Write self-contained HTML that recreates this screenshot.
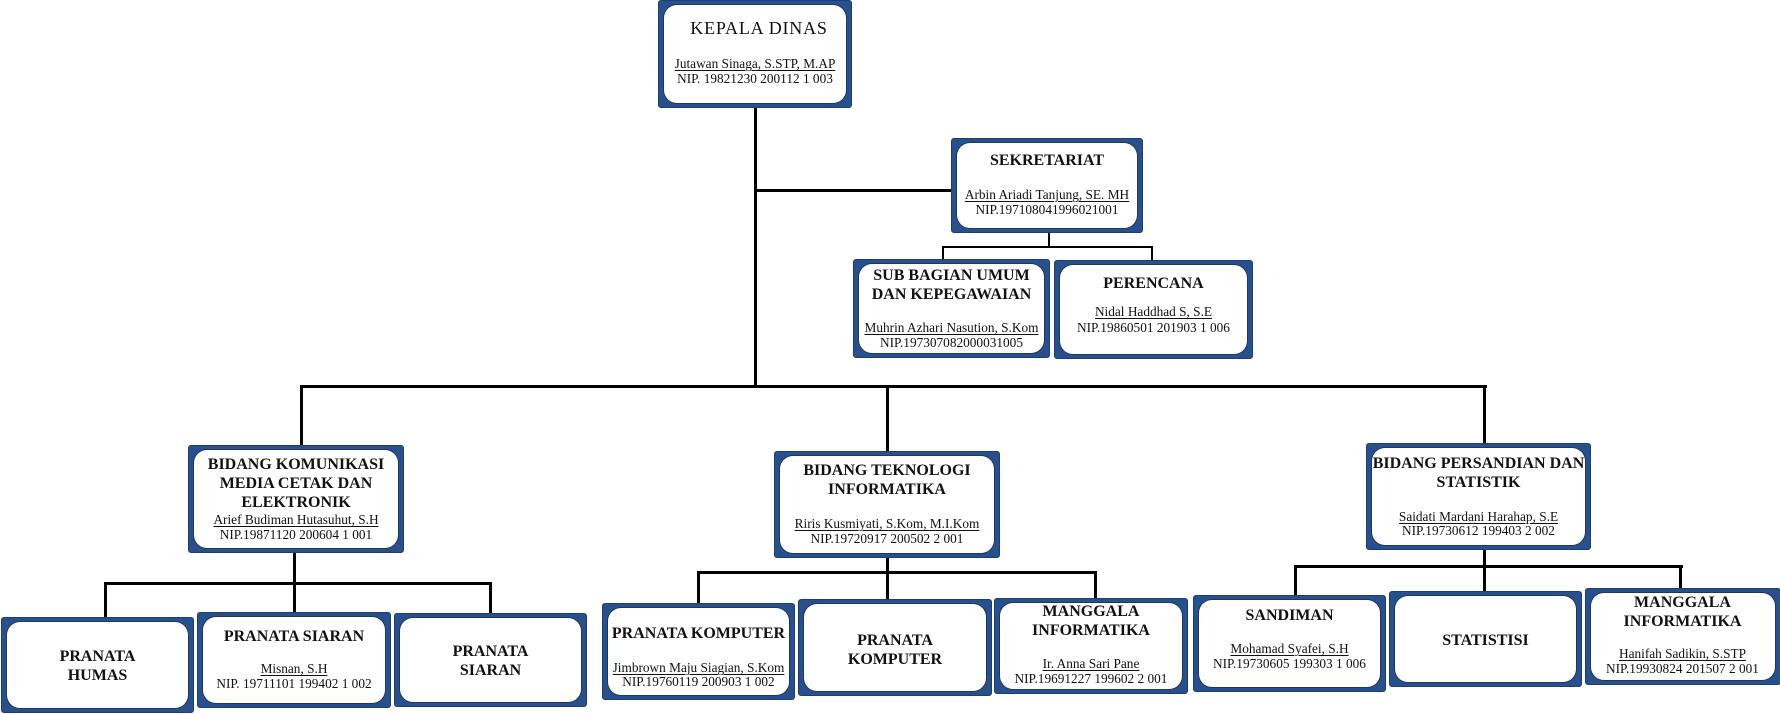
<!DOCTYPE html>
<html>
<head>
<meta charset="utf-8">
<style>
  html, body { margin:0; padding:0; background:#fff; }
  body { width:1780px; height:714px; position:relative; overflow:hidden; font-family:"Liberation Serif", "Times New Roman", serif; color:#111; }
  .l { position:absolute; background:#000; }
  .b { position:absolute; background:#27508d; border-radius:3px; box-sizing:border-box; border:1px solid #1d3e70; }
  .b::after { content:""; position:absolute; left:5px; top:4px; right:5px; bottom:4px; background:#fff; border-radius:13px; box-shadow:0 0 0 1px rgba(20,35,60,0.55); }
  .t, .n, .p, .k { position:absolute; text-align:center; white-space:nowrap; z-index:2; }
  .t { font-weight:bold; font-size:16px; line-height:16px; }
  .n { font-size:13.3px; line-height:13.3px; text-decoration:underline; text-underline-offset:2px; text-decoration-thickness:1px; }
  .p { font-size:13.3px; line-height:13.3px; }
  .k { font-size:18px; line-height:18px; letter-spacing:0.8px; }
</style>
</head>
<body>

<!-- connectors -->
<div class="l" style="left:754px;top:106px;width:3px;height:281px;"></div>
<div class="l" style="left:755px;top:189px;width:197px;height:3px;"></div>
<div class="l" style="left:300px;top:385px;width:1187px;height:3px;"></div>
<div class="l" style="left:300px;top:385px;width:3px;height:61px;"></div>
<div class="l" style="left:886px;top:385px;width:3px;height:67px;"></div>
<div class="l" style="left:1483px;top:385px;width:3px;height:59px;"></div>

<div class="l" style="left:1048px;top:232px;width:2px;height:16px;"></div>
<div class="l" style="left:942px;top:246px;width:211px;height:2px;"></div>
<div class="l" style="left:942px;top:246px;width:2px;height:14px;"></div>
<div class="l" style="left:1151px;top:246px;width:2px;height:15px;"></div>

<div class="l" style="left:293px;top:552px;width:3px;height:32px;"></div>
<div class="l" style="left:104px;top:582px;width:388px;height:3px;"></div>
<div class="l" style="left:104px;top:582px;width:3px;height:36px;"></div>
<div class="l" style="left:293px;top:582px;width:3px;height:31px;"></div>
<div class="l" style="left:489px;top:582px;width:3px;height:32px;"></div>

<div class="l" style="left:886px;top:557px;width:3px;height:16px;"></div>
<div class="l" style="left:697px;top:571px;width:400px;height:3px;"></div>
<div class="l" style="left:697px;top:571px;width:3px;height:33px;"></div>
<div class="l" style="left:886px;top:571px;width:3px;height:29px;"></div>
<div class="l" style="left:1094px;top:571px;width:3px;height:28px;"></div>

<div class="l" style="left:1483px;top:549px;width:3px;height:17px;"></div>
<div class="l" style="left:1294px;top:565px;width:389px;height:3px;"></div>
<div class="l" style="left:1294px;top:565px;width:3px;height:31px;"></div>
<div class="l" style="left:1483px;top:565px;width:3px;height:27px;"></div>
<div class="l" style="left:1679px;top:565px;width:3px;height:25px;"></div>

<!-- boxes -->
<div class="b" style="left:658px;top:0px;width:194px;height:108px;"></div>
<div class="b" style="left:951px;top:138px;width:192px;height:95px;"></div>
<div class="b" style="left:853px;top:259px;width:197px;height:99px;"></div>
<div class="b" style="left:1054px;top:260px;width:199px;height:99px;"></div>

<div class="b" style="left:188px;top:445px;width:216px;height:108px;"></div>
<div class="b" style="left:774px;top:451px;width:226px;height:107px;"></div>
<div class="b" style="left:1366px;top:443px;width:225px;height:107px;"></div>

<div class="b" style="left:1px;top:617px;width:193px;height:96px;"></div>
<div class="b" style="left:197px;top:612px;width:194px;height:96px;"></div>
<div class="b" style="left:394px;top:613px;width:193px;height:94px;"></div>

<div class="b" style="left:602px;top:603px;width:193px;height:97px;"></div>
<div class="b" style="left:798px;top:599px;width:194px;height:97px;"></div>
<div class="b" style="left:994px;top:598px;width:194px;height:96px;"></div>

<div class="b" style="left:1193px;top:595px;width:193px;height:97px;"></div>
<div class="b" style="left:1389px;top:591px;width:193px;height:96px;"></div>
<div class="b" style="left:1585px;top:588px;width:196px;height:97px;"></div>

<!-- text: KEPALA DINAS -->
<div class="k" style="left:662px;width:194px;top:19px;">KEPALA DINAS</div>
<div class="n" style="left:658px;width:194px;top:57px;">Jutawan Sinaga, S.STP, M.AP</div>
<div class="p" style="left:658px;width:194px;top:72px;">NIP. 19821230 200112 1 003</div>

<!-- SEKRETARIAT -->
<div class="t" style="left:951px;width:192px;top:153px;">SEKRETARIAT</div>
<div class="n" style="left:951px;width:192px;top:188px;">Arbin Ariadi Tanjung, SE. MH</div>
<div class="p" style="left:951px;width:192px;top:203px;">NIP.197108041996021001</div>

<!-- SUB BAGIAN -->
<div class="t" style="left:853px;width:197px;top:268px;">SUB BAGIAN UMUM</div>
<div class="t" style="left:853px;width:197px;top:287px;">DAN KEPEGAWAIAN</div>
<div class="n" style="left:853px;width:197px;top:321px;">Muhrin Azhari Nasution, S.Kom</div>
<div class="p" style="left:853px;width:197px;top:336px;">NIP.197307082000031005</div>

<!-- PERENCANA -->
<div class="t" style="left:1054px;width:199px;top:276px;">PERENCANA</div>
<div class="n" style="left:1054px;width:199px;top:305px;">Nidal Haddhad S, S.E</div>
<div class="p" style="left:1054px;width:199px;top:321px;">NIP.19860501 201903 1 006</div>

<!-- BIDANG KOMUNIKASI -->
<div class="t" style="left:188px;width:216px;top:457px;">BIDANG KOMUNIKASI</div>
<div class="t" style="left:188px;width:216px;top:476px;">MEDIA CETAK DAN</div>
<div class="t" style="left:188px;width:216px;top:495px;">ELEKTRONIK</div>
<div class="n" style="left:188px;width:216px;top:513px;">Arief Budiman Hutasuhut, S.H</div>
<div class="p" style="left:188px;width:216px;top:528px;">NIP.19871120 200604 1 001</div>

<!-- PRANATA HUMAS -->
<div class="t" style="left:1px;width:193px;top:649px;">PRANATA</div>
<div class="t" style="left:1px;width:193px;top:668px;">HUMAS</div>

<!-- PRANATA SIARAN -->
<div class="t" style="left:197px;width:194px;top:629px;">PRANATA SIARAN</div>
<div class="n" style="left:197px;width:194px;top:662px;">Misnan, S.H</div>
<div class="p" style="left:197px;width:194px;top:677px;">NIP. 19711101 199402 1 002</div>

<!-- PRANATA SIARAN 2 -->
<div class="t" style="left:394px;width:193px;top:644px;">PRANATA</div>
<div class="t" style="left:394px;width:193px;top:663px;">SIARAN</div>

<!-- BIDANG TEKNOLOGI -->
<div class="t" style="left:774px;width:226px;top:463px;">BIDANG TEKNOLOGI</div>
<div class="t" style="left:774px;width:226px;top:482px;">INFORMATIKA</div>
<div class="n" style="left:774px;width:226px;top:517px;">Riris Kusmiyati, S.Kom, M.I.Kom</div>
<div class="p" style="left:774px;width:226px;top:532px;">NIP.19720917 200502 2 001</div>

<!-- PRANATA KOMPUTER 1 -->
<div class="t" style="left:602px;width:193px;top:626px;">PRANATA KOMPUTER</div>
<div class="n" style="left:602px;width:193px;top:661px;">Jimbrown Maju Siagian, S.Kom</div>
<div class="p" style="left:602px;width:193px;top:675px;">NIP.19760119 200903 1 002</div>

<!-- PRANATA KOMPUTER 2 -->
<div class="t" style="left:798px;width:194px;top:633px;">PRANATA</div>
<div class="t" style="left:798px;width:194px;top:652px;">KOMPUTER</div>

<!-- MANGGALA 1 -->
<div class="t" style="left:994px;width:194px;top:604px;">MANGGALA</div>
<div class="t" style="left:994px;width:194px;top:623px;">INFORMATIKA</div>
<div class="n" style="left:994px;width:194px;top:657px;">Ir. Anna Sari Pane</div>
<div class="p" style="left:994px;width:194px;top:672px;">NIP.19691227 199602 2 001</div>

<!-- BIDANG PERSANDIAN -->
<div class="t" style="left:1366px;width:225px;top:456px;">BIDANG PERSANDIAN DAN</div>
<div class="t" style="left:1366px;width:225px;top:475px;">STATISTIK</div>
<div class="n" style="left:1366px;width:225px;top:510px;">Saidati Mardani Harahap, S.E</div>
<div class="p" style="left:1366px;width:225px;top:524px;">NIP.19730612 199403 2 002</div>

<!-- SANDIMAN -->
<div class="t" style="left:1193px;width:193px;top:608px;">SANDIMAN</div>
<div class="n" style="left:1193px;width:193px;top:642px;">Mohamad Syafei, S.H</div>
<div class="p" style="left:1193px;width:193px;top:657px;">NIP.19730605 199303 1 006</div>

<!-- STATISTISI -->
<div class="t" style="left:1389px;width:193px;top:633px;">STATISTISI</div>

<!-- MANGGALA 2 -->
<div class="t" style="left:1586px;width:193px;top:595px;">MANGGALA</div>
<div class="t" style="left:1586px;width:193px;top:614px;">INFORMATIKA</div>
<div class="n" style="left:1586px;width:193px;top:647px;">Hanifah Sadikin, S.STP</div>
<div class="p" style="left:1586px;width:193px;top:662px;">NIP.19930824 201507 2 001</div>

</body>
</html>
